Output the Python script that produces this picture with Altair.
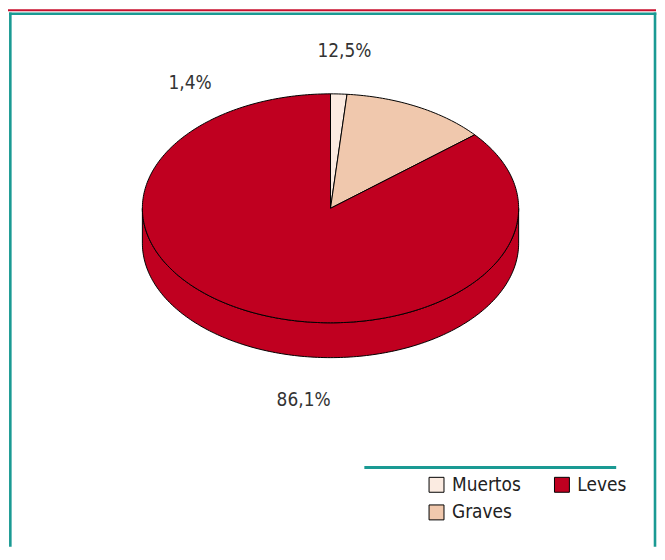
import altair as alt
import pandas as pd
import numpy as np

# ---- data ----
categories = ["Muertos", "Graves", "Leves"]
percentages = [1.4, 12.5, 86.1]
colors = ["#FBEBE1", "#F0C8AD", "#C00020"]
label_texts = ["1,4%", "12,5%", "86,1%"]
# label anchors, in pie-radius units relative to the pie centre
label_x = [-0.746, 0.074, -0.143]
label_y = [0.667, 0.836, -1.021]

FONT = "DejaVu Sans Condensed, sans-serif"
TILT = 115 / 189
DEPTH = 35 / 189
W, H = 652, 540
CX, CY = 324, 200
R = 189
xdom = [-CX / R, (W - CX) / R]
ydom = [-(H - CY) / R, CY / R]
xs = alt.Scale(domain=xdom, nice=False, zero=False)
ys = alt.Scale(domain=ydom, nice=False, zero=False)

# top face slices
rows = []
start = 0.0
for cat, p in zip(categories, percentages):
    end = start + p / 100 * 360
    n = max(int(np.ceil(end - start)), 1)
    angs = np.linspace(start, end, n + 1)
    pts = [(0.0, 0.0)] + [(np.sin(np.radians(a)), np.cos(np.radians(a)) * TILT) for a in angs] + [(0.0, 0.0)]
    for i, (x, y) in enumerate(pts):
        rows.append(dict(cat=cat, i=i, x=x, y=y))
    start = end
slices = pd.DataFrame(rows)

# front side band (belongs to Leves, which spans the whole front)
th = np.radians(np.arange(90, 271, 1))
side = pd.DataFrame({"x": np.sin(th), "y": np.cos(th) * TILT, "y2": np.cos(th) * TILT - DEPTH})

X = alt.X("x:Q", scale=xs, axis=None)
Y = alt.Y("y:Q", scale=ys, axis=None)

layers = []
layers.append(
    alt.Chart(side).mark_area(color=colors[2], stroke="black", strokeWidth=1).encode(
        x=X, y=Y, y2="y2:Q"
    )
)
for cat, col in zip(categories, colors):
    layers.append(
        alt.Chart(slices[slices.cat == cat]).mark_line(
            fill=col, stroke="black", strokeWidth=1, strokeJoin="round"
        ).encode(x=X, y=Y, order="i:Q")
    )

labels = pd.DataFrame({"label": label_texts, "x": label_x, "y": label_y})
layers.append(
    alt.Chart(labels).mark_text(font=FONT, fontSize=19, color="#333333").encode(
        x=X, y=Y, text="label:N"
    )
)

legend_layer = alt.Chart(pd.DataFrame({"cat": categories})).mark_square(
    opacity=0, size=1, stroke="black"
).encode(
    x=alt.value(CX),
    y=alt.value(CY),
    color=alt.Color(
        "cat:N",
        scale=alt.Scale(domain=categories, range=colors),
        sort=categories,
        legend=alt.Legend(
            title=None,
            orient="none",
            legendX=421,
            legendY=468,
            columns=2,
            symbolType="square",
            symbolSize=225,
            symbolStrokeColor="black",
            symbolStrokeWidth=1,
            symbolOpacity=1,
            labelFont=FONT,
            labelFontSize=19,
            labelColor="#222222",
            labelOffset=6,
            columnPadding=31,
            rowPadding=8,
            padding=0,
        ),
    ),
)
layers.append(legend_layer)

one = pd.DataFrame({"a": [0]})
def hrule(x1, x2, y, color, w):
    return alt.Chart(one).mark_rule(color=color, strokeWidth=w).encode(
        x=alt.value(x1), x2=alt.value(x2), y=alt.value(y))
def vrule(x, y1, y2, color, w):
    return alt.Chart(one).mark_rule(color=color, strokeWidth=w).encode(
        x=alt.value(x), y=alt.value(y1), y2=alt.value(y2))

TEAL = "#1A9A93"
layers += [
    hrule(-1, 651, 1, "#C8102E", 2),
    hrule(1, 651.3, 4.5, TEAL, 2.6),
    vrule(2.35, 3.2, H, TEAL, 2.6),
    vrule(650, 3.2, H, TEAL, 2.6),
    hrule(358, 611, 460.3, TEAL, 3),
]

chart = alt.layer(*layers).properties(
    width=W, height=H, padding=0, autosize=alt.AutoSizeParams(type="none")
).configure_view(stroke=None)

chart.save("out.html", embed_options={"renderer": "svg", "actions": False})
